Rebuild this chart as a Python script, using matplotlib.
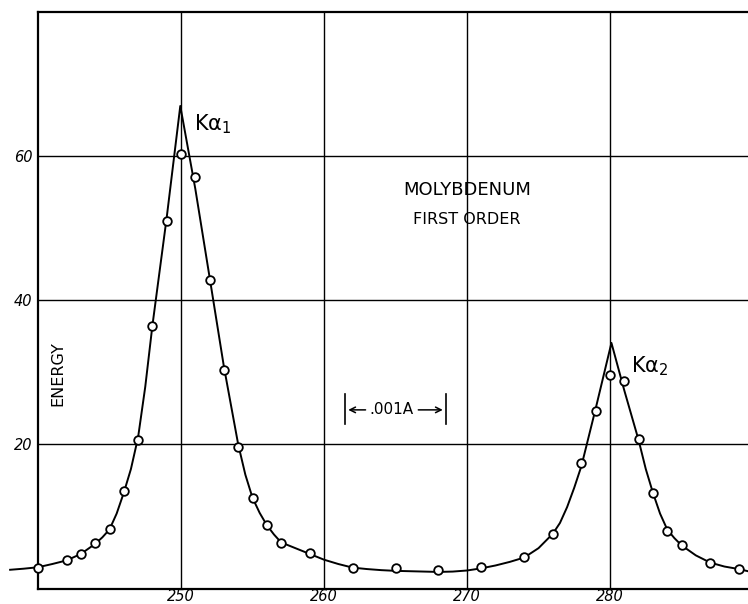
import matplotlib
matplotlib.use("Agg")
import matplotlib.pyplot as plt

# measured points (open circles)
meas_x = [240, 242, 243, 244, 245, 246, 247, 248, 249, 250, 251, 252, 253, 254,
          255, 256, 257, 259, 262, 265, 268, 271, 274, 276, 278, 279, 280, 281,
          282, 283, 284, 285, 287, 289]
meas_y = [2.9, 3.9, 4.8, 6.3, 8.2, 13.6, 20.6, 36.5, 51.0, 60.3, 57.1, 42.9, 30.4, 19.7,
          12.5, 8.8, 6.3, 4.9, 2.85, 2.8, 2.5, 3.0, 4.4, 7.5, 17.4, 24.7, 29.6, 28.8,
          20.7, 13.3, 8.0, 6.0, 3.5, 2.7]

# drawn curve (vertices)
curve_x = [238.05, 239, 240, 241, 242, 243, 244, 244.5, 245, 245.5, 246, 246.5, 247,
           247.5, 248, 249, 249.95, 251, 252, 253, 254, 254.5, 255, 255.5, 256, 256.5,
           257, 258, 259, 260, 261, 262, 263, 264, 265, 266, 267, 268, 269, 270, 271,
           272, 273, 274, 275, 276, 276.5, 277, 277.5, 278, 278.5, 279, 280.1, 281,
           282, 282.5, 283, 283.5, 284, 284.5, 285, 285.5, 286, 287, 288, 289, 289.65]
curve_y = [2.6, 2.75, 2.95, 3.4, 3.9, 4.8, 6.2, 7.1, 8.2, 10.4, 13.3, 16.6, 21.0,
           28.0, 36.5, 51.5, 67.0, 55.5, 43.2, 30.8, 20.0, 15.8, 12.6, 10.5, 8.8, 7.5,
           6.4, 5.6, 4.8, 4.0, 3.4, 2.9, 2.7, 2.55, 2.45, 2.4, 2.35, 2.3, 2.35, 2.5, 2.8,
           3.2, 3.7, 4.3, 5.6, 7.6, 9.1, 11.3, 14.0, 17.0, 21.0, 25.0, 34.1, 27.5,
           20.6, 16.6, 13.3, 10.4, 8.2, 7.0, 6.0, 5.3, 4.6, 3.6, 3.05, 2.7, 2.4]

x_ticks = [250, 260, 270, 280]
y_ticks = [20, 40, 60]

fig = plt.figure(figsize=(7.48, 6.04), dpi=100)
ax = fig.add_axes([38 / 748, 15.5 / 604, 1 - 38 / 748, (588.5 - 12.3) / 604])
ax.set_xlim(240, 289.65)
ax.set_ylim(0, 80)

for xv in x_ticks:
    ax.axvline(xv, color="black", lw=1.0, zorder=1)
for yv in y_ticks:
    ax.axhline(yv, color="black", lw=1.0, zorder=1)

ax.plot(curve_x, curve_y, color="black", lw=1.4, clip_on=False, zorder=2,
        solid_joinstyle="round")
ax.plot(meas_x, meas_y, linestyle="none", marker="o", ms=6.2, mfc="white",
        mec="black", mew=1.3, clip_on=False, zorder=3)

for s in ["left", "top", "bottom"]:
    ax.spines[s].set_linewidth(1.6)
ax.spines["right"].set_visible(False)

ax.set_xticks(x_ticks)
ax.set_xticklabels([str(v) for v in x_ticks], fontsize=10.5, style="italic")
ax.set_yticks(y_ticks)
ax.set_yticklabels([str(v) for v in y_ticks], fontsize=10.5, style="italic")
ax.tick_params(axis="x", length=0, pad=0.5)
ax.tick_params(axis="y", length=0, pad=4)

ax.text(250.9, 64.5, r"K$\mathrm{\alpha}_1$", fontsize=15, va="center", ha="left")
ax.text(281.5, 30.9, r"K$\mathrm{\alpha}_2$", fontsize=15, va="center", ha="left")
ax.text(270.0, 55.3, "MOLYBDENUM", fontsize=13, ha="center", va="center")
ax.text(270.0, 51.2, "FIRST ORDER", fontsize=11.5, ha="center", va="center")
ax.text(241.4, 29.8, "ENERGY", fontsize=11.5, rotation=90, ha="center", va="center")

# scale bar
ax.plot([261.5, 261.5], [22.9, 27.0], color="black", lw=1.2)
ax.plot([268.5, 268.5], [22.9, 27.0], color="black", lw=1.2)
ax.annotate("", xy=(261.5, 24.8), xytext=(263.1, 24.8),
            arrowprops=dict(arrowstyle="->", lw=1.1, color="black"))
ax.annotate("", xy=(268.5, 24.8), xytext=(266.4, 24.8),
            arrowprops=dict(arrowstyle="->", lw=1.1, color="black"))
ax.text(264.75, 24.8, ".001A", fontsize=11, ha="center", va="center")

fig.savefig("out.png", dpi=100)
